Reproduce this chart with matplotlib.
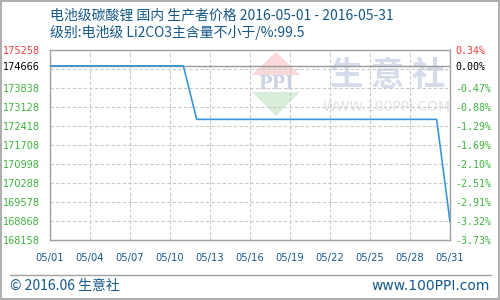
import matplotlib
matplotlib.use("Agg")
import matplotlib.pyplot as plt
from matplotlib.patches import Polygon, Rectangle
from matplotlib.lines import Line2D

plt.rcParams['font.family'] = ['Noto Sans CJK SC', 'DejaVu Sans']

# Daily price series, May 2016 (yuan/ton)
days = list(range(1, 32))
prices = [174666] * 11 + [172666] * 19 + [168840]
base_price = 174666

# Left axis tick values
y_ticks = [175258, 174666, 173838, 173128, 172418, 171708, 170998,
           170288, 169578, 168868, 168158]
grid_values = [175258, 174548, 173838, 173128, 172418, 171708, 170998,
               170288, 169578, 168868, 168158]
x_tick_days = [1, 4, 7, 10, 13, 16, 19, 22, 25, 28, 31]
x_tick_labels = ["05/%02d" % d for d in x_tick_days]

title1 = "电池级碳酸锂 国内 生产者价格 2016-05-01 - 2016-05-31"
title2 = "级别:电池级 Li2CO3主含量不小于/%:99.5"
footer_left = "© 2016.06 生意社"
footer_right = "www.100PPI.com"

TXT = "#15598a"
RED = "#f03c3c"
GREEN = "#3cb43c"
LINE = "#3a96d6"
AXIS = "#a0a0a0"
GRID = "#c8c8c8"

W, H = 500, 300
fig = plt.figure(figsize=(5, 3), dpi=100)
fig.patch.set_facecolor("white")

def fx(px):
    return px / W

def fy(py):
    return 1 - py / H

ax = fig.add_axes([fx(50), fy(240), fx(450) - fx(50), fy(50) - fy(240)])
ax.set_xlim(1, 31)
ax.set_ylim(min(y_ticks), max(y_ticks))

# Watermark inside the plot area
wm = ax.inset_axes([0, 0, 1, 1], transform=ax.transAxes)
wm.set_xlim(50, 450)
wm.set_ylim(240, 50)
wm.axis("off")
wm.set_zorder(0)
wm.add_patch(Polygon([[252, 75], [300, 75], [276, 52]], closed=True,
                     facecolor="#f8d8d8", edgecolor="none"))
wm.add_patch(Polygon([[252, 92], [300, 92], [276, 116]], closed=True,
                     facecolor="#d8eed8", edgecolor="none"))
wm.add_patch(Rectangle((250, 75), 52, 17, facecolor="white", edgecolor="none"))
wm.text(276, 84, "PPI", ha="center", va="center", fontsize=13,
        family=["DejaVu Serif"], fontweight="bold", color="#c9d3e6")
wm.text(388, 75, "生 意 社", ha="center", va="center", fontsize=24,
        fontweight="bold", color="#d4dcea")
wm.text(387, 107, "WWW.100PPI.COM", ha="center", va="center", fontsize=10,
        family=["DejaVu Sans"], color="#e2e2e2")

ax.patch.set_alpha(0)
ax.set_zorder(1)

for v in grid_values:
    ax.axhline(v, color=GRID, lw=0.8, ls=(0, (3, 2)), zorder=1)
for d in x_tick_days:
    ax.axvline(d, color=GRID, lw=0.8, ls=(0, (3, 2)), zorder=1)
ax.axhline(base_price, color="#999999", lw=1.0, zorder=2)

ax.plot(days, prices, color=LINE, lw=1.2, zorder=3)

for s in ax.spines.values():
    s.set_color(AXIS)
    s.set_linewidth(1.0)

ax.set_xticks(x_tick_days)
ax.set_xticklabels(x_tick_labels, family=["DejaVu Sans"], fontsize=7.2, color=TXT)
ax.tick_params(axis="x", length=0, pad=9)

ax.set_yticks(y_ticks)
ax.set_yticklabels([str(v) for v in y_ticks], family=["DejaVu Sans"], fontsize=7.0)
ax.tick_params(axis="y", length=0, pad=7.2)
for i, lab in enumerate(ax.get_yticklabels()):
    lab.set_color(RED if i == 0 else ("black" if i == 1 else GREEN))

ax2 = ax.twinx()
ax2.set_ylim(ax.get_ylim())
ax2.set_yticks(y_ticks)
pct_labels = ["%.2f%%" % ((v / base_price - 1) * 100) for v in y_ticks]
pct_labels = [("0.00%" if p in ("-0.00%",) else p) for p in pct_labels]
ax2.set_yticklabels(pct_labels, family=["DejaVu Sans Mono"], fontsize=7.2)
ax2.tick_params(axis="y", length=0, pad=3.6)
for i, lab in enumerate(ax2.get_yticklabels()):
    lab.set_color(RED if i == 0 else ("black" if i == 1 else GREEN))
for s in ax2.spines.values():
    s.set_visible(False)

# Titles
fig.text(fx(50), fy(15), title1, ha="left", va="center", fontsize=10.0, color=TXT)
fig.text(fx(50), fy(33), title2, ha="left", va="center", fontsize=10.0, color=TXT)

# Footer
fig.add_artist(Line2D([fx(10), fx(491)], [fy(275), fy(275)], color=AXIS, lw=1.0))
fig.text(fx(10), fy(286), footer_left, ha="left", va="center", fontsize=10.0, color=TXT)
fig.text(fx(490), fy(286), footer_right, ha="right", va="center", fontsize=10.0,
         family=["DejaVu Sans"], color=TXT)

# Outer frame
fig.add_artist(Rectangle((0.001, 0.002), 0.997, 0.995, transform=fig.transFigure,
                         fill=False, edgecolor=AXIS, lw=1.2))

fig.savefig("out.png", dpi=100, facecolor="white")
